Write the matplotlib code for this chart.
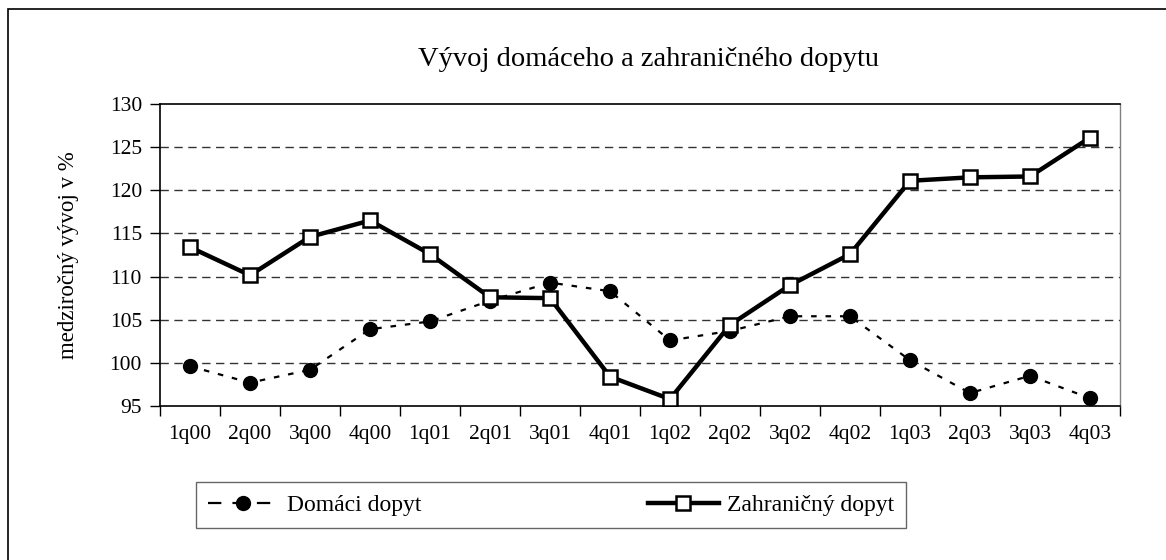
import numpy as np
import matplotlib
matplotlib.use("Agg")
import matplotlib.pyplot as plt
from matplotlib.lines import Line2D
from matplotlib.patches import Rectangle

plt.rcParams['font.family'] = ['Liberation Serif', 'DejaVu Serif']

# Dáta
kvartaly = ["1q00", "2q00", "3q00", "4q00", "1q01", "2q01", "3q01", "4q01",
            "1q02", "2q02", "3q02", "4q02", "1q03", "2q03", "3q03", "4q03"]
domaci = [99.6, 97.7, 99.2, 103.9, 104.8, 107.2, 109.3, 108.3,
          102.6, 103.7, 105.4, 105.4, 100.3, 96.5, 98.5, 95.9]
zahranicny = [113.4, 110.15, 114.6, 116.5, 112.6, 107.6, 107.5, 98.4,
              95.8, 104.4, 109.0, 112.6, 121.1, 121.5, 121.6, 126.1]
y_ticky = [95, 100, 105, 110, 115, 120, 125, 130]

fig = plt.figure(figsize=(11.66, 5.6), dpi=100)
ax = fig.add_axes([160 / 1166, 1 - 406 / 560, 960 / 1166, 302 / 560])

x = np.arange(len(kvartaly))

# mriežka
for yv in y_ticky[1:-1]:
    ax.axhline(yv, color='#333333', linewidth=1.0, linestyle=(0, (6, 4)), zorder=1)

ax.plot(x, domaci, color='black', linewidth=1.6, linestyle=(0, (2.5, 4)),
        marker='o', markersize=10, markerfacecolor='black', markeredgecolor='black',
        zorder=3)
ax.plot(x, zahranicny, color='black', linewidth=3.2, linestyle='-',
        marker='s', markersize=10, markerfacecolor='white', markeredgecolor='black',
        markeredgewidth=1.8, zorder=4)

ax.set_xlim(-0.5, len(kvartaly) - 0.5)
ax.set_ylim(95, 130)
ax.set_yticks(y_ticky)
ax.set_yticklabels([str(v) for v in y_ticky], fontsize=15.5)
ax.set_xticks(x)
ax.set_xticklabels(kvartaly, fontsize=15.5)
ax.set_xticks(np.arange(len(kvartaly) + 1) - 0.5, minor=True)
ax.tick_params(axis='x', which='major', length=0, pad=14)
ax.tick_params(axis='x', which='minor', length=7, width=1, direction='out')
ax.tick_params(axis='y', length=7, width=1, direction='out', pad=6)

for s in ['left', 'bottom', 'top']:
    ax.spines[s].set_color('black')
    ax.spines[s].set_linewidth(1.2)
ax.spines['right'].set_color('#808080')
ax.spines['right'].set_linewidth(1.0)

ax.set_ylabel("medziročný vývoj v %", fontsize=16.5, labelpad=22)
fig.text(648 / 1166, 1 - 60 / 560, "Vývoj domáceho a zahraničného dopytu",
         fontsize=20.5, ha='center', va='center')

# legenda
h1 = Line2D([], [], color='black', linewidth=1.6, linestyle=(0, (6, 5)),
            marker='o', markersize=10, markerfacecolor='black')
h2 = Line2D([], [], color='black', linewidth=3.2, linestyle='-',
            marker='s', markersize=10, markerfacecolor='white', markeredgewidth=1.8)
leg = fig.legend([h1, h2], ["Domáci dopyt", "Zahraničný dopyt"],
                 loc='center', bbox_to_anchor=(551 / 1166, 1 - 505 / 560),
                 ncol=2, fontsize=17, frameon=True, fancybox=False,
                 edgecolor='#404040', handlelength=3.0, handletextpad=0.35,
                 columnspacing=9.6, borderpad=0.5, borderaxespad=0)
leg.get_frame().set_linewidth(1.0)

# vonkajší rámik
fig.patches.append(Rectangle((8 / 1166, -0.1), 1.2, 1 - 9 / 560 + 0.1,
                             transform=fig.transFigure, fill=False,
                             edgecolor='black', linewidth=1.2))

fig.savefig("out.png", dpi=100)
